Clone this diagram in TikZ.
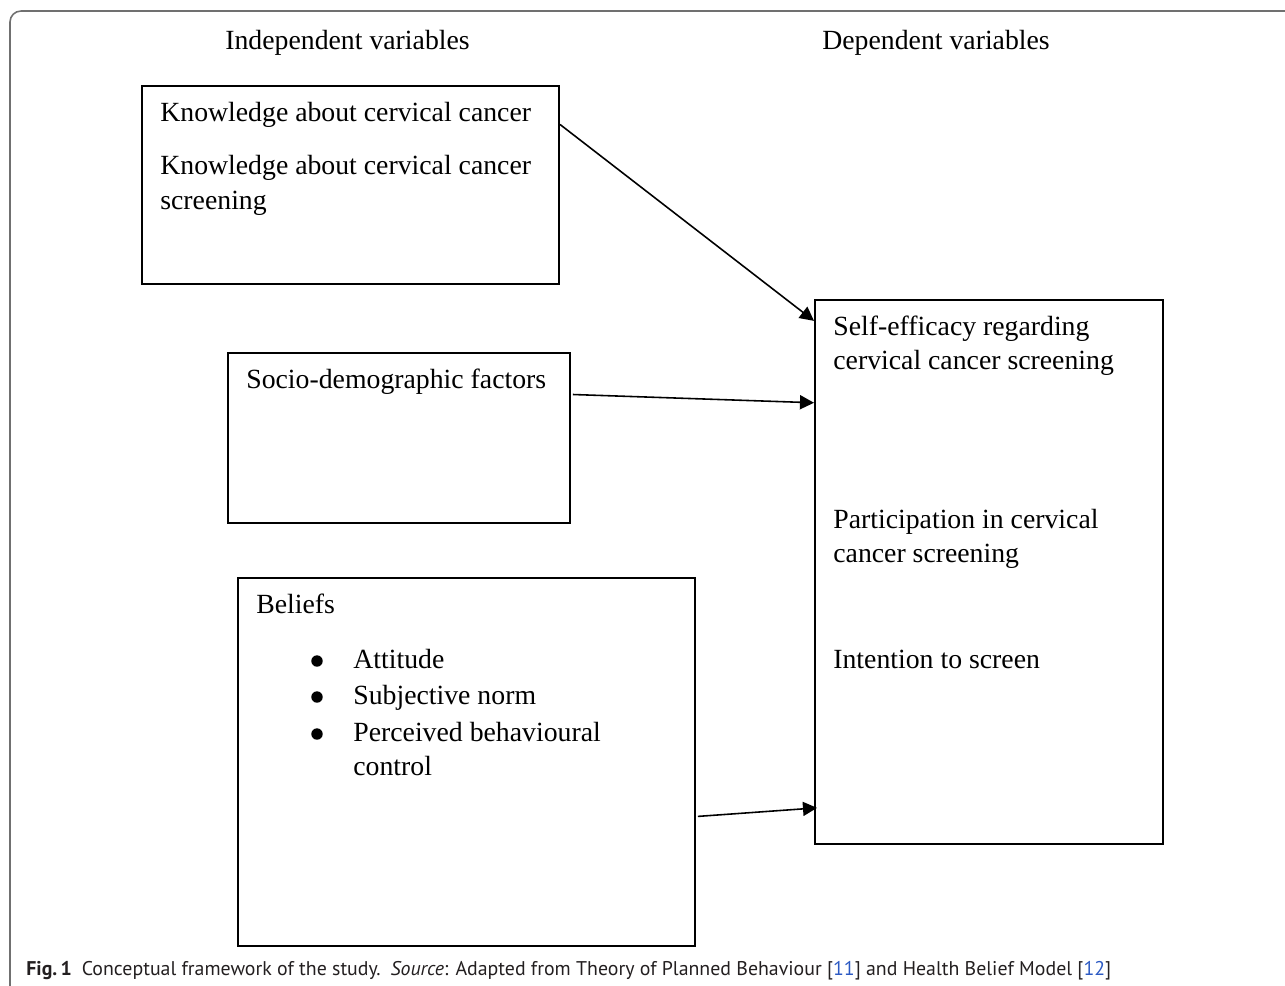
\documentclass[tikz,border=0pt]{standalone}
\usepackage{fontspec}
\setmainfont{Liberation Serif}
\newfontfamily\capfont{PT Sans}
\usepackage{xcolor}
\usetikzlibrary{calc,arrows.meta}
\definecolor{ink}{HTML}{000000}
\definecolor{framegray}{HTML}{707070}
\definecolor{captext}{HTML}{231F20}
\definecolor{reflink}{HTML}{2B59C3}
\tikzset{
  box/.style={draw=ink, line width=1.1pt, inner sep=0pt},
  sz/.style 2 args={minimum width=#1*0.02cm, minimum height=#2*0.02cm},
  arr/.style={draw=ink, line width=0.9pt, -{Triangle[length=8pt,width=8pt]}},
  frame/.style={draw=framegray, line width=0.9pt, rounded corners=0.22cm},
  lab/.style={text=ink, inner sep=0pt, anchor=base west, font=\fontsize{15.8}{19.5}\selectfont},
  capt/.style={text=captext, inner sep=0pt, anchor=base west, font=\capfont\fontsize{11.3}{13}\selectfont},
}
\begin{document}
\begin{tikzpicture}[x=0.02cm, y=-0.02cm]
  \useasboundingbox (0,0) rectangle (1285,985);
  \draw[frame] (10,990) -- (10,11) -- (1290,11);

  % headers
  \node[lab] (indep) at (225,49) {Independent variables};
  \node[lab] (dephead) at (822,49) {Dependent variables};

  % boxes
  \node[box, sz={417}{198}] (know)    at (350.5,185) {};
  \node[box, sz={342}{170}] (socio)   at (399,438) {};
  \node[box, sz={457}{368}] (beliefs) at (466.5,762) {};
  \node[box, sz={348}{544}] (dep)     at (989,572) {};

  % box texts
  \node[lab] (k1) at (160,121) {Knowledge about cervical cancer};
  \node[lab] (k2) at (160,174) {Knowledge about cervical cancer};
  \node[lab] (k3) at (160,209) {screening};
  \node[lab] (s1) at (246,388) {Socio-demographic factors};
  \node[lab] (b0) at (256,613) {Beliefs};
  \foreach \y/\t/\n in {668/Attitude/b1, 704/Subjective norm/b2, 741/Perceived behavioural/b3}{
    \node[circle, fill=ink, inner sep=0pt, minimum size=6.5pt] (dot\n) at (317,\y-7) {};
    \node[lab] (\n) at (353,\y) {\t};
  }
  \node[lab] (b4) at (353,775) {control};
  \node[lab] (d1) at (833,335) {Self-efficacy regarding};
  \node[lab] (d2) at (833,369) {cervical cancer screening};
  \node[lab] (d3) at (833,528) {Participation in cervical};
  \node[lab] (d4) at (833,562) {cancer screening};
  \node[lab] (d5) at (833,668) {Intention to screen};

  % arrows
  \draw[arr] ($(know.north east)!0.197!(know.south east)$) -- ($(dep.north west)!0.04!(dep.south west)$);
  \draw[arr] ($(socio.north east)!0.247!(socio.south east)+(2,0)$) -- ($(dep.north west)!0.19!(dep.south west)$);
  \draw[arr] ($(beliefs.north east)!0.647!(beliefs.south east)+(2,0)$) -- ($(dep.north west)!0.932!(dep.south west)+(3,0)$);

  % caption
  \node[capt] (cap) at (26,975) {\textbf{Fig.\,1}\enspace Conceptual framework of the study.\enspace\textit{Source}: Adapted from Theory of Planned Behaviour [\textcolor{reflink}{11}] and Health Belief Model [\textcolor{reflink}{12}]};
\end{tikzpicture}
\end{document}
